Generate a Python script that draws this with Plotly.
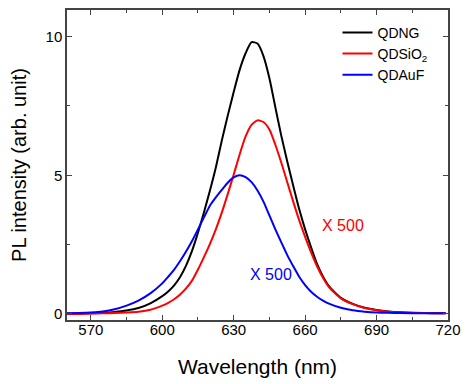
import plotly.graph_objects as go

wavelength = [560, 565, 570, 575, 580, 585, 590, 595,
              600, 602.5, 605, 607.5, 610, 612.5, 615, 617.5, 620, 622.5, 625, 627.5,
              630, 632.5, 635, 637.5, 640, 642.5, 645, 647.5, 650, 652.5, 655, 657.5,
              660, 662.5, 665, 667.5, 670,
              675, 680, 685, 690, 695, 700, 710, 719]

qdng = [0.01, 0.01, 0.02, 0.04, 0.07, 0.12, 0.21, 0.38,
        0.64, 0.81, 1.03, 1.33, 1.74, 2.27, 2.93, 3.66, 4.44, 5.28, 6.25, 7.15,
        8.0, 8.8, 9.4, 9.8, 9.75, 9.3, 8.5, 7.45, 6.42, 5.5, 4.62, 3.78,
        3.05, 2.4, 1.8, 1.35, 1.0,
        0.58, 0.36, 0.22, 0.14, 0.09, 0.06, 0.03, 0.02]

qdsio2 = [0.0, 0.0, 0.01, 0.02, 0.03, 0.05, 0.08, 0.15,
          0.3, 0.4, 0.53, 0.7, 0.92, 1.2, 1.6, 2.05, 2.52, 3.05, 3.65, 4.32,
          5.02, 5.75, 6.4, 6.82, 6.98, 6.92, 6.65, 6.1, 5.45, 4.75, 4.05, 3.38,
          2.78, 2.22, 1.72, 1.3, 0.97,
          0.56, 0.35, 0.21, 0.13, 0.08, 0.05, 0.03, 0.02]

qdauf = [0.02, 0.03, 0.05, 0.09, 0.17, 0.3, 0.48, 0.74,
         1.1, 1.34, 1.6, 1.91, 2.25, 2.63, 3.05, 3.48, 3.9, 4.2, 4.47, 4.73,
         4.92, 5.0, 4.93, 4.75, 4.45, 4.05, 3.55, 3.05, 2.58, 2.12, 1.72, 1.34,
         1.04, 0.8, 0.62, 0.48, 0.37,
         0.22, 0.13, 0.08, 0.05, 0.04, 0.03, 0.02, 0.02]

series_names = ["QDNG", "QDSiO<sub>2</sub>", "QDAuF"]
series_colors = ["#000000", "#ff0000", "#0000ff"]

x_ticks = [570, 600, 630, 660, 690, 720]
y_ticks = [0, 5, 10]

FONT = "Liberation Sans, Arial, sans-serif"

fig = go.Figure()
for name, ys, col in zip(series_names, [qdng, qdsio2, qdauf], series_colors):
    fig.add_trace(go.Scatter(x=wavelength, y=ys, mode="lines", name=name,
                             line=dict(color=col, width=2, shape="spline", smoothing=0.6)))

fig.add_annotation(x=666.2, y=3.2, text="X 500", showarrow=False, xanchor="left",
                   font=dict(color="#ff0000", size=16, family=FONT))
fig.add_annotation(x=636.0, y=1.42, text="X 500", showarrow=False, xanchor="left",
                   font=dict(color="#0000ff", size=16, family=FONT))

axis_common = dict(showline=True, linecolor="#444444", linewidth=1.5, mirror="allticks",
                   ticks="inside", ticklen=5, tickwidth=1.2, tickcolor="#444444",
                   showgrid=False, zeroline=False,
                   tickfont=dict(size=15, color="#000000", family=FONT))

fig.update_xaxes(range=[560, 720], tickvals=x_ticks, ticklabelstandoff=-5,
                 minor=dict(ticks="inside", ticklen=3, tickcolor="#444444", dtick=15, tick0=570),
                 title=dict(text="Wavelength (nm)", font=dict(size=21, color="#000000", family=FONT),
                            standoff=23),
                 **axis_common)
fig.update_yaxes(range=[-0.22, 10.96], tickvals=y_ticks,
                 minor=dict(ticks="inside", ticklen=3, tickcolor="#444444", dtick=2.5, tick0=0),
                 title=dict(text="PL intensity (arb. unit)", font=dict(size=20, color="#000000", family=FONT),
                            standoff=14),
                 **axis_common)

fig.update_layout(width=465, height=384, margin=dict(l=67, r=17, t=10, b=64, autoexpand=False),
                  plot_bgcolor="white", paper_bgcolor="white",
                  font=dict(family=FONT, color="#000000"),
                  legend=dict(x=0.71, y=0.978, xanchor="left", yanchor="top",
                              bgcolor="rgba(0,0,0,0)", font=dict(size=14, family=FONT),
                              tracegroupgap=0, itemwidth=30))

fig.write_html("out.html", config={"displayModeBar": False},
               post_script="document.body.style.margin='0';document.body.style.overflow='hidden';")
